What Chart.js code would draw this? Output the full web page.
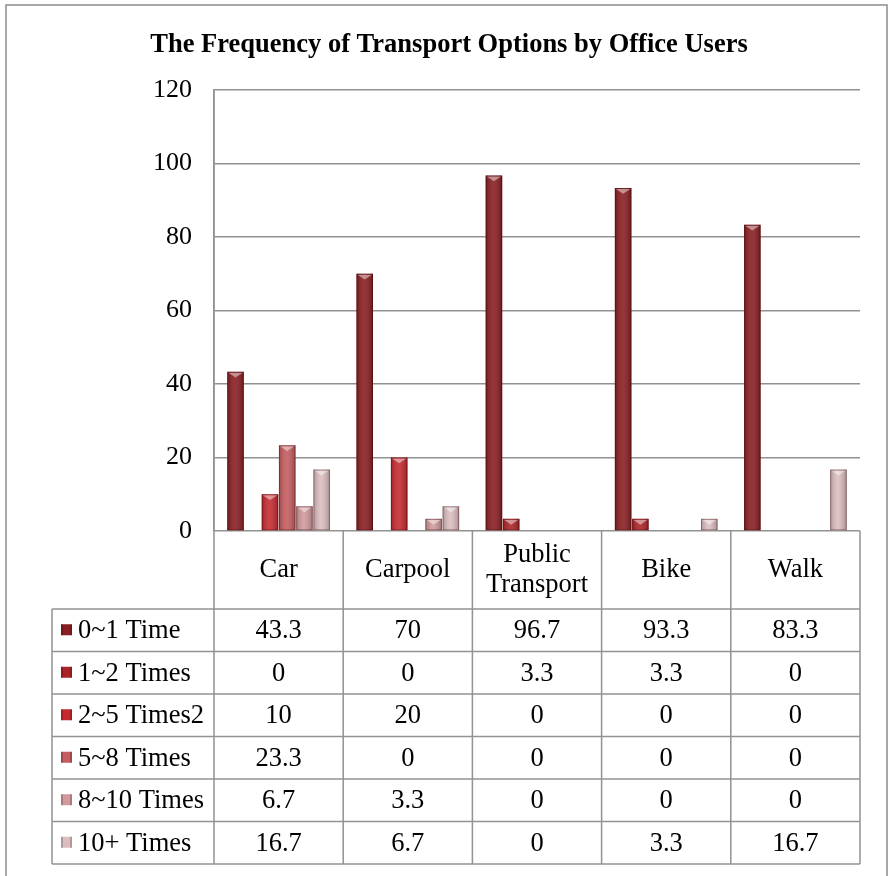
<!DOCTYPE html>
<html>
<head>
<meta charset="utf-8">
<script src="https://cdn.jsdelivr.net/npm/chart.js@4"></script>
<style>
  html, body { margin: 0; padding: 0; background: #fff; }
  #wrap { width: 889px; height: 876px; position: relative; }
</style>
</head>
<body>
<div id="wrap"><canvas id="transportChart"></canvas></div>
<script>
const categories = ['Car', 'Carpool', ['Public', 'Transport'], 'Bike', 'Walk'];
const seriesNames = ['0~1 Time', '1~2 Times', '2~5 Times2', '5~8 Times', '8~10 Times', '10+ Times'];
const zeroToOne = [43.3, 70, 96.7, 93.3, 83.3];
const oneToTwo = [0, 0, 3.3, 3.3, 0];
const twoToFive = [10, 20, 0, 0, 0];
const fiveToEight = [23.3, 0, 0, 0, 0];
const eightToTen = [6.7, 3.3, 0, 0, 0];
const tenPlus = [16.7, 6.7, 0, 3.3, 16.7];
const yTicks = [0, 20, 40, 60, 80, 100, 120];

const seriesValues = [zeroToOne, oneToTwo, twoToFive, fiveToEight, eightToTen, tenPlus];
const colors = ['#8a1e22', '#ad2428', '#c62a2f', '#c65d60', '#d29a9c', '#dcbec0'];

const FONT = '"Liberation Serif", "Times New Roman", serif';
const LINE = '#929292';

// outer frame of the chart
const framePlugin = {
  id: 'frame',
  beforeDraw(chart) {
    const { ctx } = chart;
    ctx.save();
    ctx.strokeStyle = '#8c8c8c';
    ctx.lineWidth = 1.5;
    ctx.strokeRect(6, 5, chart.width - 8, chart.height + 10);
    ctx.restore();
  }
};

// shading and the little top triangle on each bar
const bevelPlugin = {
  id: 'bevel',
  afterDatasetsDraw(chart) {
    const { ctx } = chart;
    ctx.save();
    chart.data.datasets.forEach((ds, di) => {
      chart.getDatasetMeta(di).data.forEach(bar => {
        const h = bar.base - bar.y;
        if (h <= 0.5) return;
        const left = bar.x - bar.width / 2;
        const right = bar.x + bar.width / 2;
        const g = ctx.createLinearGradient(left, 0, right, 0);
        g.addColorStop(0, 'rgba(0,0,0,0.22)');
        g.addColorStop(0.45, 'rgba(255,255,255,0.10)');
        g.addColorStop(1, 'rgba(0,0,0,0.25)');
        ctx.fillStyle = g;
        ctx.fillRect(left, bar.y, bar.width, h);
        const tri = Math.min(bar.width * 0.35, h);
        ctx.beginPath();
        ctx.moveTo(left + 1, bar.y + 1);
        ctx.lineTo(right - 1, bar.y + 1);
        ctx.lineTo(bar.x, bar.y + tri);
        ctx.closePath();
        ctx.fillStyle = 'rgba(255,255,255,0.45)';
        ctx.fill();
        ctx.strokeStyle = 'rgba(60,0,0,0.35)';
        ctx.lineWidth = 1;
        ctx.strokeRect(left + 0.5, bar.y + 0.5, bar.width - 1, h - 1);
      });
    });
    ctx.restore();
  }
};

// data table under the plot, columns follow the category scale
const tablePlugin = {
  id: 'dataTable',
  afterDraw(chart) {
    const { ctx, chartArea: area } = chart;
    const n = categories.length;
    const catW = (area.right - area.left) / n;
    const headTop = area.bottom;
    const headBottom = headTop + 78;
    const rowH = 42.5;
    const tableBottom = headBottom + rowH * seriesNames.length;
    const legendLeft = 52;

    ctx.save();
    ctx.strokeStyle = LINE;
    ctx.lineWidth = 1.5;
    ctx.beginPath();
    // axis line continues down through the table
    ctx.moveTo(area.left, area.top);
    ctx.lineTo(area.left, tableBottom);
    for (let i = 1; i <= n; i++) {
      const bx = area.left + i * catW;
      ctx.moveTo(bx, headTop);
      ctx.lineTo(bx, tableBottom);
    }
    ctx.moveTo(legendLeft, headBottom);
    ctx.lineTo(legendLeft, tableBottom);
    for (let r = 0; r <= seriesNames.length; r++) {
      const y = headBottom + r * rowH;
      ctx.moveTo(legendLeft, y);
      ctx.lineTo(area.right, y);
    }
    ctx.stroke();

    ctx.fillStyle = '#000';
    ctx.font = '26.5px ' + FONT;
    ctx.textAlign = 'center';
    ctx.textBaseline = 'middle';
    categories.forEach((c, i) => {
      const cx = chart.scales.x.getPixelForValue(i);
      const lines = Array.isArray(c) ? c : [c];
      const mid = (headTop + headBottom) / 2;
      lines.forEach((t, k) => {
        ctx.fillText(t, cx, mid + (k - (lines.length - 1) / 2) * 30);
      });
    });

    seriesNames.forEach((name, r) => {
      const cy = headBottom + r * rowH + rowH / 2;
      // legend key
      const kx = legendLeft + 9;
      ctx.fillStyle = colors[r];
      ctx.fillRect(kx, cy - 6, 11, 11);
      ctx.fillStyle = 'rgba(0,0,0,0.2)';
      ctx.fillRect(kx, cy - 6, 2, 11);
      ctx.fillRect(kx + 9, cy - 6, 2, 11);
      ctx.fillStyle = '#000';
      ctx.textAlign = 'left';
      ctx.fillText(name, legendLeft + 26, cy + 1);
      ctx.textAlign = 'center';
      seriesValues[r].forEach((v, i) => {
        ctx.fillText(String(v), chart.scales.x.getPixelForValue(i), cy + 1);
      });
    });
    ctx.restore();
  }
};

new Chart(document.getElementById('transportChart'), {
  type: 'bar',
  data: {
    labels: categories,
    datasets: seriesNames.map((name, i) => ({
      label: name,
      data: seriesValues[i],
      backgroundColor: colors[i],
      borderWidth: 0,
      categoryPercentage: 0.8,
      barPercentage: 0.96
    }))
  },
  options: {
    responsive: true,
    maintainAspectRatio: false,
    animation: false,
    layout: { padding: { left: 38, right: 29, top: 0, bottom: 345 } },
    scales: {
      x: { display: false },
      y: {
        min: 0,
        max: 120,
        afterBuildTicks: scale => { scale.ticks = yTicks.map(v => ({ value: v })); },
        afterFit: scale => { scale.width = 176; },
        border: { display: true, color: LINE, width: 1.5 },
        grid: { color: LINE, lineWidth: 1.5, drawTicks: false },
        ticks: { padding: 22, color: '#000', font: { family: FONT, size: 26 } }
      }
    },
    plugins: {
      legend: { display: false },
      tooltip: { enabled: false },
      title: {
        display: true,
        text: 'The Frequency of Transport Options by Office Users',
        color: '#000',
        font: { family: FONT, size: 26.5, weight: 'bold' },
        padding: { top: 29, bottom: 29 }
      }
    }
  },
  plugins: [framePlugin, bevelPlugin, tablePlugin]
});
</script>
</body>
</html>
